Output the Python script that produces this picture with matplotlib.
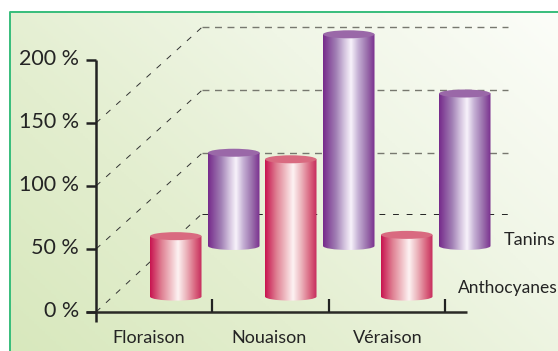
import numpy as np
from matplotlib import pyplot as plt
from matplotlib.colors import LinearSegmentedColormap
from matplotlib.patches import Ellipse, PathPatch
from matplotlib.path import Path

stages = ['Floraison', 'Nouaison', 'Véraison']
anthocyanes = [48, 109, 49]
tanins = [74, 168, 121]
y_ticks = [0, 50, 100, 150, 200]
back_levels = [78, 126, 176, 226]

plt.rcParams['font.family'] = ['Lato', 'DejaVu Sans']
text_color = '#242424'

# the y axis is in percent, x stays in plain figure units
px_y = 1.26
fig = plt.figure(figsize=(5.58, 3.51), dpi=100)
ax = fig.add_axes([0, 0, 1, 1])
ax.set_axis_off()

# soft diagonal background
gx, gy = np.meshgrid(np.linspace(0, 1, 200), np.linspace(0, 1, 200))
bg_cmap = LinearSegmentedColormap.from_list('bg', ['#d8e8bd', '#e3eecf', '#f0f6e6', '#fcfdf9'])
ax.imshow((gx * 0.6 + gy * 0.4), cmap=bg_cmap, origin='lower', aspect='auto',
          extent=(10, 558, -31, 238), zorder=0)
ax.plot([10, 10, 558], [-31, 238, 238], color='#37bd7b', lw=1.4, zorder=1)

purple_cmap = LinearSegmentedColormap.from_list(
    'purple', [(0, '#762a8b'), (0.25, '#a17fb4'), (0.42, '#d6c6e0'), (0.54, '#f8f3fb'),
               (0.68, '#c5b0d4'), (0.85, '#9a6fac'), (1, '#7a2e8e')])
pink_cmap = LinearSegmentedColormap.from_list(
    'pink', [(0, '#c8134f'), (0.22, '#df7f92'), (0.4, '#f0c0c6'), (0.54, '#fdf3f3'),
             (0.7, '#ecb4bc'), (0.88, '#d8607c'), (1, '#c62a5c')])


def draw_cylinder(x_left, width, base, value, cmap, top_color, z):
    top = base + value
    rx = width / 2
    ry = 4 / px_y
    center = x_left + rx
    k = 0.5523
    # body outline: straight sides with a rounded bottom
    verts = [(x_left, top), (x_left, base),
             (x_left, base - k * ry), (center - k * rx, base - ry), (center, base - ry),
             (center + k * rx, base - ry), (x_left + width, base - k * ry), (x_left + width, base),
             (x_left + width, top), (x_left, top)]
    codes = [Path.MOVETO, Path.LINETO,
             Path.CURVE4, Path.CURVE4, Path.CURVE4,
             Path.CURVE4, Path.CURVE4, Path.CURVE4,
             Path.LINETO, Path.CLOSEPOLY]
    shade = np.linspace(0, 1, 256).reshape(1, -1)
    im = ax.imshow(shade, cmap=cmap, aspect='auto', zorder=z,
                   extent=(x_left, x_left + width, base - ry, top))
    outline = PathPatch(Path(verts, codes), transform=ax.transData, fc='none', ec='none')
    ax.add_patch(outline)
    im.set_clip_path(outline)
    ax.add_patch(Ellipse((center, top), width, 2 * ry, fc=top_color, ec='none', zorder=z + 0.1))


# dashed walls behind the cylinders
for level, back in zip(y_ticks[:4], back_levels):
    ax.plot([96, 202], [level, back], color='#333333', lw=0.7, dashes=(6, 8), zorder=2)
for i, back in enumerate(back_levels):
    if i == 0:
        ax.plot([202, 508], [back, back], color='#222222', lw=0.7, dashes=(6, 8), zorder=2)
    else:
        ax.plot([202, 508], [back, back], color='#77786f', lw=1.0, dashes=(5, 4), zorder=2)

# cylinders, back row first
tanin_x = [208, 323, 439]
antho_x = [150, 265, 381]
for x, value in zip(tanin_x, tanins):
    draw_cylinder(x, 51.5, 52.4, value, purple_cmap, '#9a68a8', 3)
for x, value in zip(antho_x, anthocyanes):
    draw_cylinder(x, 51.5, 12.2, value, pink_cmap, '#d96a80', 4)

# axes
ax.plot([96, 96], [200, -8], color='#222222', lw=1.8, solid_capstyle='butt', zorder=5)
ax.plot([86, 467], [0, 0], color='#2a2a26', lw=1.8, solid_capstyle='butt', zorder=5)
for tick in y_ticks:
    ax.plot([86, 96], [tick, tick], color='#222222', lw=1.8, solid_capstyle='butt', zorder=5)
    ax.text(79, tick + 1, f'{tick} %', ha='right', va='center', fontsize=15.5, color=text_color, zorder=6)
for x in [212, 329, 445]:
    ax.plot([x, x], [0, 10], color='#222222', lw=1.6, solid_capstyle='butt', zorder=5)

for x, stage in zip([149, 269, 388], stages):
    ax.text(x, -21, stage, ha='center', va='center', fontsize=13, color=text_color)

ax.text(504, 57, 'Tanins', ha='left', va='center', fontsize=13, color=text_color)
ax.text(458, 19, 'Anthocyanes', ha='left', va='center', fontsize=12.5, color=text_color)

ax.set_xlim(0, 558)
ax.set_ylim(-39 / px_y, 312 / px_y)
fig.savefig('out.png', dpi=100)
